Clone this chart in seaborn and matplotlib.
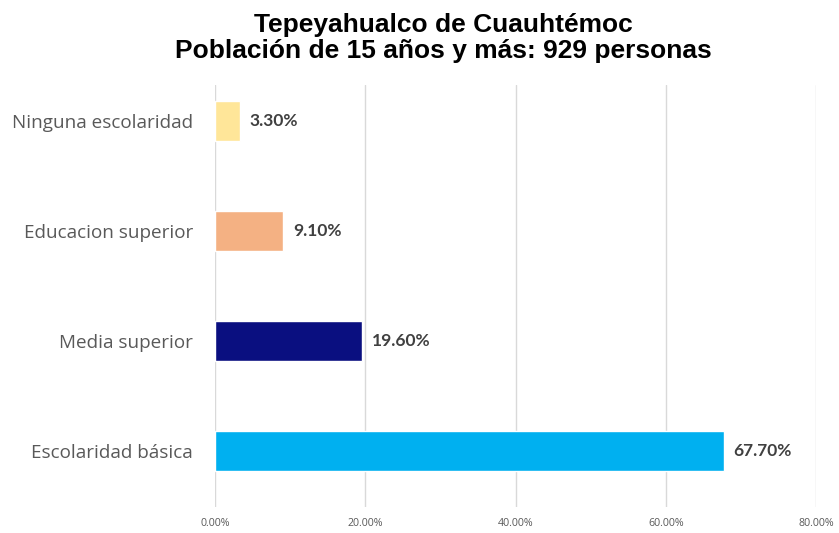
"""Horizontal bar chart: schooling level, Tepeyahualco de Cuauhtémoc."""

import matplotlib.pyplot as plt
import matplotlib.ticker as mticker
import pandas as pd
import seaborn as sns

# Data
categories = [
    "Ninguna escolaridad",
    "Educacion superior",
    "Media superior",
    "Escolaridad básica",
]
values = [3.30, 9.10, 19.60, 67.70]
bar_colors = ["#FFE699", "#F4B183", "#0A0F80", "#00B0F0"]
x_ticks = [0, 20, 40, 60, 80]

title = "Tepeyahualco de Cuauhtémoc\nPoblación de 15 años y más: 929 personas"

df = pd.DataFrame({"nivel": categories, "pct": values})

sns.set_theme(style="white")
plt.rcParams["font.family"] = ["Open Sans", "DejaVu Sans"]

fig = plt.figure(figsize=(8.39, 5.33), dpi=100)
ax = fig.add_axes([215 / 839, 1 - 507 / 533, (816 - 215) / 839, (507 - 85) / 533])

sns.barplot(
    data=df,
    y="nivel",
    x="pct",
    hue="nivel",
    palette=dict(zip(categories, bar_colors)),
    order=categories,
    hue_order=categories,
    legend=False,
    width=0.355,
    saturation=1,
    ax=ax,
)

ax.set_xlim(0, 80)
ax.set_ylim(3.509, -0.327)
ax.set_xticks(x_ticks)
ax.xaxis.set_major_formatter(mticker.FuncFormatter(lambda v, _: f"{v:.2f}%"))
ax.grid(axis="x", color="#D9D9D9", linewidth=1)
ax.grid(axis="y", visible=False)
ax.set_axisbelow(True)
for spine in ax.spines.values():
    spine.set_visible(False)

ax.set_xlabel("")
ax.set_ylabel("")
ax.tick_params(axis="x", length=0, pad=8, labelsize=7.7, labelcolor="#595959")
ax.tick_params(axis="y", length=0, pad=16, labelsize=13.6, labelcolor="#595959")

# Value labels
for i, v in enumerate(values):
    ax.annotate(
        f"{v:.2f}%",
        xy=(v, i),
        xytext=(7, 0),
        textcoords="offset points",
        va="center",
        ha="left",
        fontsize=12.5,
        fontweight="bold",
        family=["Lato", "DejaVu Sans"],
        color="#404040",
    )

fig.text(
    443 / 839,
    1 - 38 / 533,
    title,
    ha="center",
    va="center",
    fontsize=19,
    fontweight="bold",
    fontstretch="normal",
    family=["Liberation Sans", "DejaVu Sans"],
    linespacing=1.1,
    color="black",
)

fig.savefig("out.png", dpi=100)
